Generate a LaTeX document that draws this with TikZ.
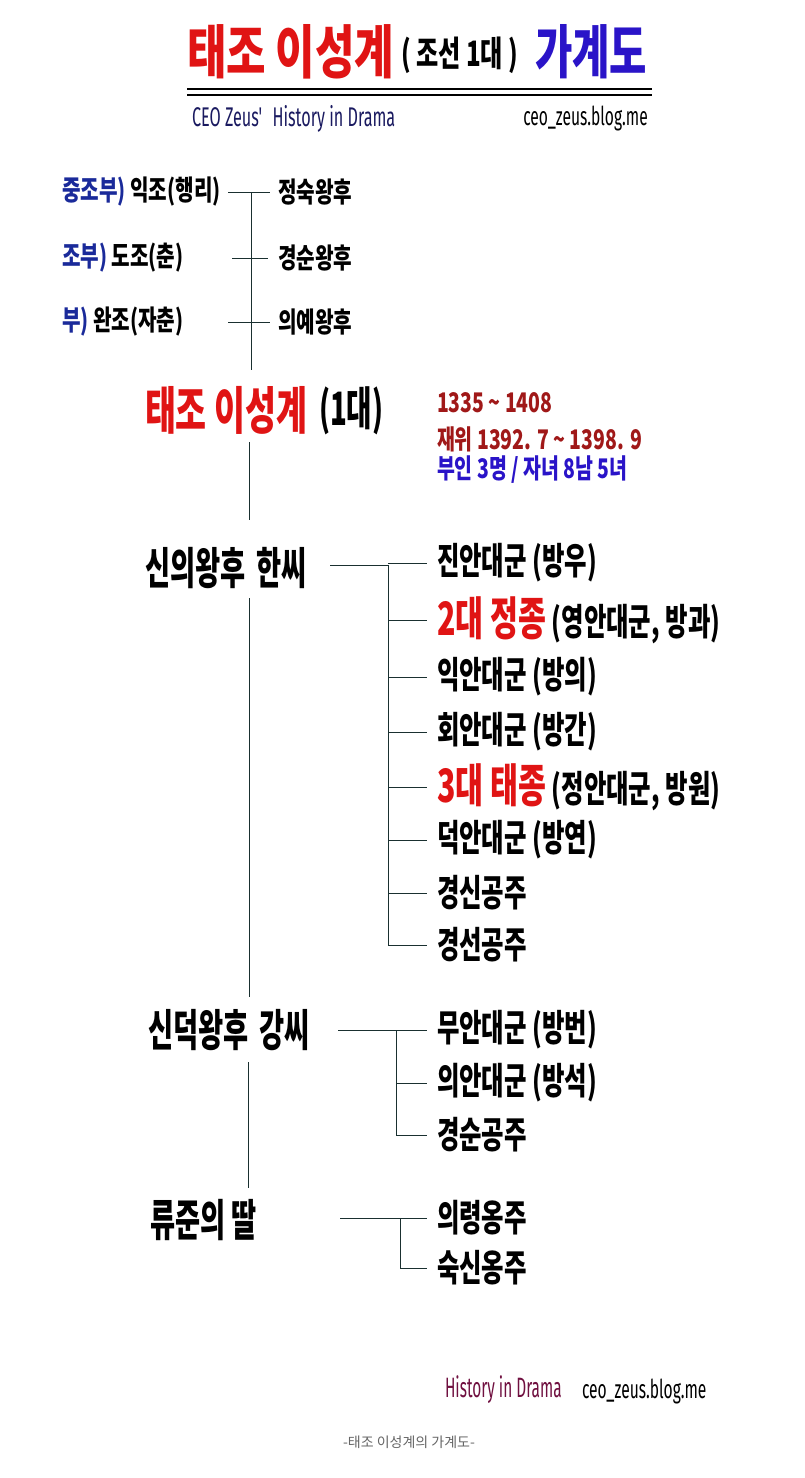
\documentclass[tikz,border=0pt]{standalone}
\usepackage{fontspec}
\newfontfamily\krV[FakeStretch=0.69]{Noto Sans CJK KR}
\newfontfamily\krT[FakeStretch=0.74]{Noto Sans CJK KR}
\newfontfamily\krU[FakeStretch=0.72]{Noto Sans CJK KR}
\newfontfamily\krR[FakeStretch=0.70]{Noto Sans CJK KR}
\newfontfamily\krX[FakeStretch=0.66]{Noto Sans CJK KR}
\newfontfamily\krY[FakeStretch=0.62]{Noto Sans CJK KR}
\newfontfamily\krZ[FakeStretch=0.60]{Noto Sans CJK KR}
\newfontfamily\krN{Noto Sans CJK KR}
\newfontfamily\latc[FakeStretch=0.60]{Fira Sans}
\newfontfamily\latd[FakeStretch=0.55]{Fira Sans}
\definecolor{tred}{HTML}{E01414}
\definecolor{tblue}{HTML}{2A14C8}
\definecolor{lblue}{HTML}{1A2A9A}
\definecolor{dred}{HTML}{A01818}
\definecolor{navy}{HTML}{1A1A60}
\definecolor{maroon}{HTML}{701040}
\definecolor{lineC}{HTML}{1A3030}
\tikzset{
  conn/.style={draw=lineC, line width=1pt},
  txt/.style={anchor=west, inner sep=0pt, outer sep=0pt},
  anc/.style={txt, font=\krU\bfseries\fontsize{28}{28}\selectfont},
  kid/.style={txt, font=\krX\bfseries\fontsize{37}{37}\selectfont},
  wife/.style={txt, font=\krY\bfseries\fontsize{44}{44}\selectfont},
  info/.style={txt, font=\krU\bfseries\fontsize{27}{27}\selectfont},
}
\begin{document}
\begin{tikzpicture}[x=1pt,y=-1pt]
\useasboundingbox (0,0) rectangle (805,1478);
\fill[white] (0,0) rectangle (805,1478);
% title
\node[txt, font=\krT\bfseries\fontsize{58}{58}\selectfont, text=tred] (t1) at (187,52) {태조 이성계};
\node[txt, font=\krV\bfseries\fontsize{35}{35}\selectfont] (t2) at (401,55) {( 조선 1대 )};
\node[txt, font=\krR\bfseries\fontsize{58}{58}\selectfont, text=tblue] (t3) at (535,52) {가계도};
\coordinate (r1a) at (187,89); \coordinate (r1b) at (652,89);
\coordinate (r2a) at (187,95); \coordinate (r2b) at (652,95);
\draw[line width=1.5pt] (r1a) -- (r1b);
\draw[line width=1.5pt] (r2a) -- (r2b);
\node[txt, font=\latc\fontsize{27}{27}\selectfont, text=navy] (s1) at (192,119) {CEO Zeus'\hspace{6pt} History in Drama};
\node[anchor=east, inner sep=0pt, font=\latc\fontsize{26}{26}\selectfont] (s2) at (648,119) {ceo\_zeus.blog.me};
% ancestors
\node[anc] (a1) at (62,192) {{\color{lblue}중조부)} 익조(행리)};
\node[anc] (w1) at (278,192) {정숙왕후};
\node[anc] (a2) at (62,258) {{\color{lblue}조부)} 도조(춘)};
\node[anc] (w2) at (278,258) {경순왕후};
\node[anc] (a3) at (62,322) {{\color{lblue}부)} 완조(자춘)};
\node[anc] (w3) at (278,322) {의예왕후};
\coordinate (h1a) at (228,192); \coordinate (h1b) at (270,192);
\coordinate (h2a) at (232,258); \coordinate (h2b) at (268,258);
\coordinate (h3a) at (228,322); \coordinate (h3b) at (270,322);
\coordinate (sp1) at (251,192); \coordinate (sp2) at (251,370);
\draw[conn] (h1a) -- (h1b);
\draw[conn] (h2a) -- (h2b);
\draw[conn] (h3a) -- (h3b);
\draw[conn] (sp1) -- (sp2);
% Taejo
\node[txt, font=\krX\bfseries\fontsize{51}{51}\selectfont, text=tred] (tj) at (145,410) {태조 이성계};
\node[txt, font=\krZ\bfseries\fontsize{46}{46}\selectfont] (tjn) at (319,411) {(1대)};
\node[info, text=dred] (i1) at (437,403) {1335 \textasciitilde{} 1408};
\node[info, text=dred] (i2) at (437,439) {재위 1392. 7 \textasciitilde{} 1398. 9};
\node[info, text=tblue] (i3) at (437,470) {부인 3명 / 자녀 8남 5녀};
\coordinate (v1a) at (249,442); \coordinate (v1b) at (249,520);
\draw[conn] (v1a) -- (v1b);
% 신의왕후
\node[wife] (q1) at (145,568) {신의왕후\hspace{5pt} 한씨};
\coordinate (v2a) at (249,598); \coordinate (v2b) at (249,997);
\draw[conn] (v2a) -- (v2b);
\coordinate (q1h) at (330,565); \coordinate (q1j) at (388,565);
\draw[conn] (q1h) -- (q1j);
\node[kid] (c1) at (437,563) {진안대군 (방우)};
\node[kid] (c2) at (437,620) {{\color{tred}\fontsize{46}{46}\selectfont 2대 정종} (영안대군, 방과)};
\node[kid] (c3) at (437,677) {익안대군 (방의)};
\node[kid] (c4) at (437,732) {회안대군 (방간)};
\node[kid] (c5) at (437,787) {{\color{tred}\fontsize{46}{46}\selectfont 3대 태종} (정안대군, 방원)};
\node[kid] (c6) at (437,840) {덕안대군 (방연)};
\node[kid] (c7) at (437,893) {경신공주};
\node[kid] (c8) at (437,945) {경선공주};
\coordinate (b1t) at (388,565); \coordinate (b1b) at (388,945);
\draw[conn] (b1t) -- (b1b);
\foreach \n/\yy in {c1/563,c2/620,c3/677,c4/732,c5/787,c6/840,c7/893,c8/945}{
  \coordinate (\n j) at (388,\yy);
  \draw[conn] (\n j) -- ([xshift=-10pt]\n.west |- \n j);
}
% 신덕왕후
\node[wife] (q2) at (148,1030) {신덕왕후\hspace{5pt} 강씨};
\coordinate (q2h) at (338,1030); \coordinate (q2j) at (396,1030);
\draw[conn] (q2h) -- (q2j);
\node[kid] (d1) at (437,1030) {무안대군 (방번)};
\node[kid] (d2) at (437,1083) {의안대군 (방석)};
\node[kid] (d3) at (437,1135) {경순공주};
\coordinate (b2t) at (396,1030); \coordinate (b2b) at (396,1135);
\draw[conn] (b2t) -- (b2b);
\foreach \n/\yy in {d1/1030,d2/1083,d3/1135}{
  \coordinate (\n j) at (396,\yy);
  \draw[conn] (\n j) -- ([xshift=-10pt]\n.west |- \n j);
}
\coordinate (v3a) at (248,1062); \coordinate (v3b) at (248,1188);
\draw[conn] (v3a) -- (v3b);
% 류준의 딸
\node[wife] (q3) at (150,1220) {류준의 딸};
\coordinate (q3h) at (340,1218); \coordinate (q3j) at (400,1218);
\draw[conn] (q3h) -- (q3j);
\node[kid] (e1) at (437,1218) {의령옹주};
\node[kid] (e2) at (437,1268) {숙신옹주};
\coordinate (b3t) at (400,1218); \coordinate (b3b) at (400,1268);
\draw[conn] (b3t) -- (b3b);
\foreach \n/\yy in {e1/1218,e2/1268}{
  \coordinate (\n j) at (400,\yy);
  \draw[conn] (\n j) -- ([xshift=-10pt]\n.west |- \n j);
}
% footer
\node[txt, font=\latd\fontsize{28}{28}\selectfont, text=maroon] (f1) at (445,1390) {History in Drama};
\node[txt, font=\latc\fontsize{26}{26}\selectfont] (f2) at (582,1392) {ceo\_zeus.blog.me};
\node[font=\krN\fontsize{14}{14}\selectfont, text=black!60, inner sep=0pt] (cap) at (409,1442) {-태조 이성계의 가계도-};
\end{tikzpicture}
\end{document}
